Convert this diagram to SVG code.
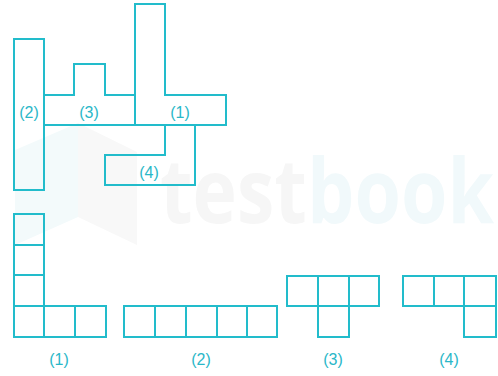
<svg xmlns="http://www.w3.org/2000/svg" width="498" height="376" viewBox="0 0 498 376">
<style>
.s{fill:none;stroke:#22bccb;stroke-width:2;stroke-linejoin:miter}
.t{font-family:"Liberation Sans",Arial,sans-serif;font-size:16px;fill:#2ab7c8;text-anchor:middle}
.wm{font-family:"Open Sans","Liberation Sans",sans-serif;font-weight:bold;font-size:90px}
</style>
<rect width="498" height="376" fill="#ffffff"/>
<g id="watermark">
<polygon points="15,150 78,123 78,217 15,245" fill="#f3fafb"/>
<polygon points="78,123 137,152 137,245 78,217" fill="#f8f8f8"/>
<text x="160" y="223" class="wm" textLength="334" lengthAdjust="spacingAndGlyphs"><tspan fill="#f6f6f6">test</tspan><tspan fill="#f1f9fb">book</tspan></text>
</g>
<g id="top-2">
<rect class="s" x="14" y="39" width="30" height="151"/>
<text class="t" x="29" y="118">(2)</text>
</g>
<g id="top-3">
<path class="s" d="M44,95 H74 V64 H105 V95 H135 V125 H44 Z"/>
<text class="t" x="89" y="118">(3)</text>
</g>
<g id="top-1">
<path class="s" d="M135,4 H165 V95 H226 V125 H135 Z"/>
<text class="t" x="180" y="118">(1)</text>
</g>
<g id="top-4">
<path class="s" d="M165,125 V155 H105 V185 H195 V125"/>
<text class="t" x="149" y="178">(4)</text>
</g>
<g id="opt-1">
<path class="s" d="M14,214 H44 V337 H14 Z M14,245 H44 M14,275 H44 M14,306 H106 V337 H44 M75,306 V337"/>
<text class="t" x="59" y="365">(1)</text>
</g>
<g id="opt-2">
<path class="s" d="M124,306 H277 V337 H124 Z M155,306 V337 M186,306 V337 M217,306 V337 M247,306 V337"/>
<text class="t" x="201" y="365">(2)</text>
</g>
<g id="opt-3">
<path class="s" d="M287,276 H379 V306 H287 Z M318,276 V337 H349 V276"/>
<text class="t" x="333" y="365">(3)</text>
</g>
<g id="opt-4">
<path class="s" d="M403,276 H496 V306 H403 Z M434,276 V306 M464,276 V337 H496 V306"/>
<text class="t" x="449" y="365">(4)</text>
</g>
</svg>
